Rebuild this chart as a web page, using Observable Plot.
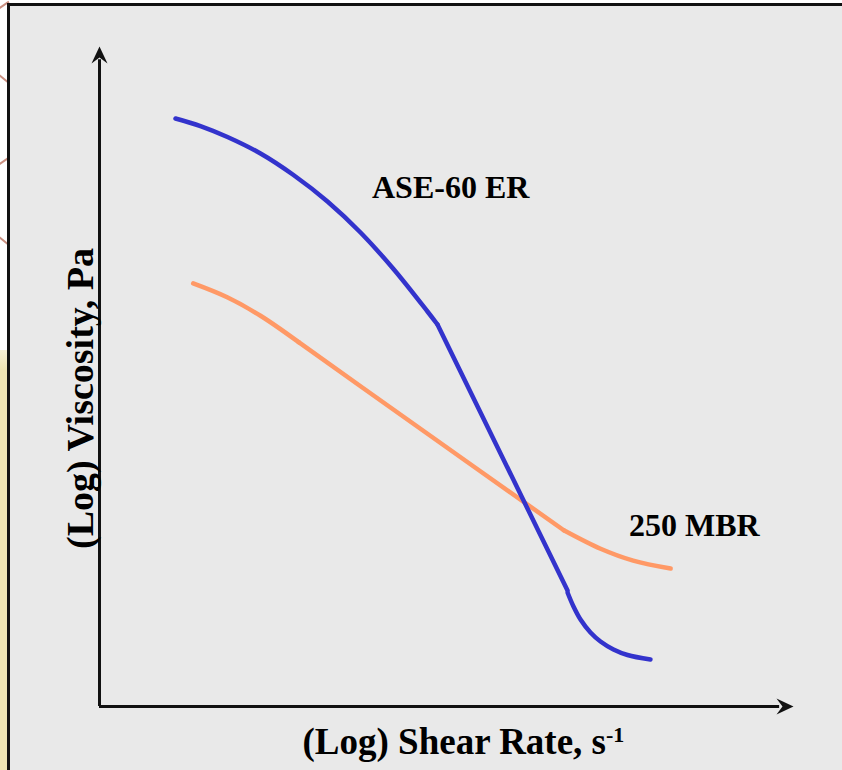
<!DOCTYPE html>
<html>
<head>
<meta charset="utf-8">
<script src="https://cdn.jsdelivr.net/npm/d3@7"></script>
<script src="https://cdn.jsdelivr.net/npm/@observablehq/plot@0.6"></script>
<style>
  html, body { margin: 0; padding: 0; background: #ffffff; width: 842px; height: 770px; overflow: hidden; }
  #strip { position: absolute; left: 0; top: 350px; width: 8px; height: 420px; background: linear-gradient(#f6f0d6, #ede3b3 20px); }
  .deco { position: absolute; left: -2px; width: 12px; height: 2px; background: #c98f80; transform: rotate(-35deg); }
  #box { position: absolute; left: 7px; top: 3px; width: 840px; height: 770px; box-sizing: border-box;
         border-left: 3px solid #111; border-top: 3px solid #111; background: #e9e9e9; }
  #chart { position: absolute; left: 0; top: 0; }
  #chart svg { overflow: visible; }
</style>
</head>
<body>
<div id="strip"></div>
<div class="deco" style="top:4px"></div>
<div class="deco" style="top:78px; transform: rotate(40deg)"></div>
<div class="deco" style="top:160px"></div>
<div class="deco" style="top:240px; transform: rotate(40deg)"></div>
<div id="box"></div>
<div id="chart"></div>
<script>
// ASE-60 ER curve (three drawn pieces)
const aseX   = [10.95, 14.55, 18.44, 23.2, 27.95, 32.85, 37.61, 42.36, 47.26, 48.7,  48.7, 67.44,  67.44, 68.3, 69.31, 70.75, 72.19, 74.06, 76.08, 79.39];
const aseY   = [89.09, 87.95, 86.29, 83.79, 80.53, 76.52, 71.82, 66.29, 59.85, 57.88,  57.88, 17.58,  17.27, 15.15, 13.18, 11.21, 9.85, 8.64, 7.8, 7.12];
const aseSeg = [1,1,1,1,1,1,1,1,1,1, 2,2, 3,3,3,3,3,3,3,3];

// 250 MBR curve (three drawn pieces)
const mbrX   = [13.5, 18.4, 23.2, 28.7,  28.7, 43.4, 66.9,  66.9, 72.2, 76.9, 82.3];
const mbrY   = [64.1, 62.0, 59.2, 55.2,  55.2, 44.2, 26.7,  26.7, 23.9, 22.1, 20.9];
const mbrSeg = [1,1,1,1, 2,2,2, 3,3,3,3];

// curve labels
const labelText = ["ASE-60 ER", "250 MBR"];
const labelX    = [50.6, 85.7];
const labelY    = [78.6, 27.4];

// axis titles
const xTitle = "(Log) Shear Rate, s";
const xTitleSup = "-1";
const yTitle = "(Log) Viscosity, Pa";

const ase = aseX.map((x, i) => ({x, y: aseY[i], seg: aseSeg[i]}));
const mbr = mbrX.map((x, i) => ({x, y: mbrY[i], seg: mbrSeg[i]}));
const labels = labelText.map((t, i) => ({t, x: labelX[i], y: labelY[i]}));

const stealth = {
  draw(ctx) {
    ctx.moveTo(0, 0);
    ctx.lineTo(8, 17);
    ctx.lineTo(0, 11);
    ctx.lineTo(-8, 17);
    ctx.closePath();
  }
};

const font = "'Times New Roman', 'Liberation Serif', serif";

const chart = Plot.plot({
  width: 842,
  height: 770,
  marginLeft: 99,
  marginRight: 49,
  marginTop: 46,
  marginBottom: 64,
  x: {domain: [0, 100], axis: null},
  y: {domain: [0, 100], axis: null},
  style: {background: "transparent", fontFamily: font, overflow: "visible"},
  marks: [
    Plot.ruleX([0], {y1: 0, y2: 98, stroke: "#111", strokeWidth: 3}),
    Plot.ruleY([0], {x1: 0, x2: 98, stroke: "#111", strokeWidth: 3}),
    Plot.dot([{x: 0, y: 100, r: 0}, {x: 100, y: 0, r: 90}], {x: "x", y: "y", rotate: "r", symbol: stealth, fill: "#111", stroke: "none", r: 5}),
    Plot.line(mbr, {x: "x", y: "y", z: "seg", stroke: "#ff9966", strokeWidth: 4.5, curve: "catmull-rom", strokeLinecap: "round"}),
    Plot.line(ase, {x: "x", y: "y", z: "seg", stroke: "#3333cc", strokeWidth: 4.5, curve: "catmull-rom", strokeLinecap: "round"}),
    Plot.text(labels, {x: "x", y: "y", text: "t", fontSize: 32, fontWeight: "bold", fill: "#000", textAnchor: "middle", lineAnchor: "middle"}),
    Plot.text([xTitle], {frameAnchor: "bottom-left", text: d => d, dx: 203, dy: 35.5, textAnchor: "start", lineAnchor: "middle", fontSize: 37, fontWeight: "bold", fill: "#000", className: "xtitle"}),
    Plot.text([yTitle], {frameAnchor: "left", text: d => d, rotate: -90, dx: -19, dy: 22, textAnchor: "middle", lineAnchor: "middle", fontSize: 38, fontWeight: "bold", fill: "#000"})
  ]
});
// superscript on the x-axis title
d3.select(chart).selectAll("g.xtitle text").append("tspan")
  .attr("dy", "-0.55em").attr("font-size", 22).text(xTitleSup);
document.getElementById("chart").appendChild(chart);
</script>
</body>
</html>
